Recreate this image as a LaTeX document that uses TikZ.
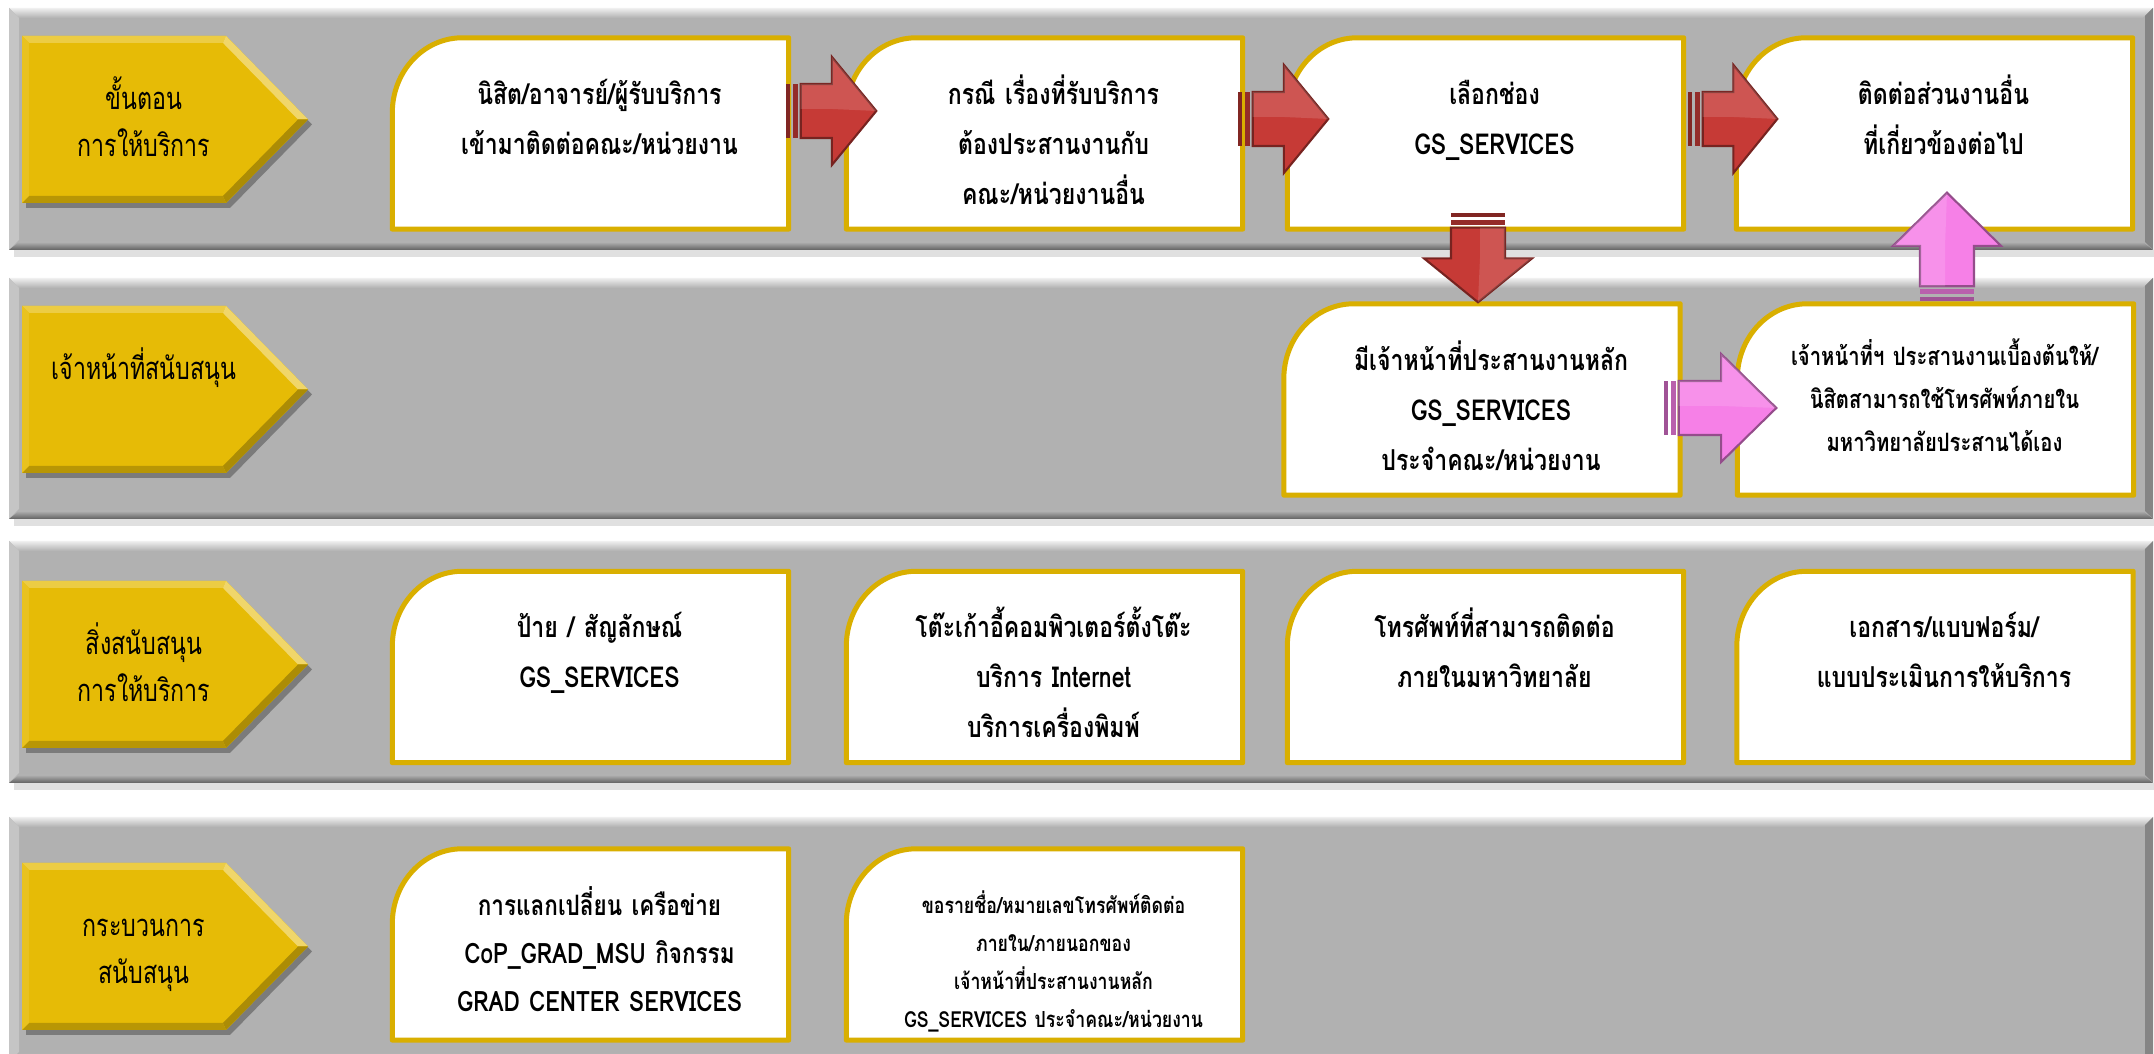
\documentclass[tikz,border=0pt]{standalone}
\usepackage{fontspec}
\newfontfamily\thaifont[Script=Thai,FakeStretch=0.8]{Loma}
\newfontfamily\tabfont[Script=Thai,FakeStretch=0.75]{Loma}
\usetikzlibrary{calc}
\pgfdeclarelayer{lanes}
\pgfdeclarelayer{cards}
\pgfsetlayers{lanes,cards,main}
\definecolor{lanegray}{RGB}{177,177,177}
\definecolor{tabgold}{RGB}{230,187,6}
\definecolor{cardgold}{RGB}{217,175,0}
\definecolor{arrowred}{RGB}{198,58,54}
\definecolor{arrowpink}{RGB}{246,128,231}
\tikzset{
  card/.style={text width=37mm, align=center, inner sep=0pt, minimum width=39.5mm,
    text height=6.6mm, text depth=12.4mm,
    font={\thaifont\bfseries\fontsize{8.2}{14.2}\selectfont}},
  smallcard/.style={card, text height=6.1mm, text depth=12.9mm,
    font={\thaifont\bfseries\fontsize{7.2}{12.2}\selectfont}},
  tinycard/.style={card, text height=6.4mm, text depth=12.6mm,
    font={\thaifont\bfseries\fontsize{6.3}{10.8}\selectfont}},
  cardline/.style={draw=cardgold, fill=white, line width=0.5mm, line join=round},
  tabtext/.style={anchor=north, text width=30mm, align=center, inner sep=0pt,
    text height=7.3mm, font={\tabfont\fontsize{8.8}{13.4}\selectfont}},
}
\begin{document}
\begin{tikzpicture}[x=0.1mm,y=0.1mm]
  \useasboundingbox (0,0) rectangle (2154,1054);
  % yellow tab on the left of a lane: top, name, text
  \def\tab(#1)[#2]#3{%
    \begin{pgfonlayer}{lanes}
      \fill[black,opacity=.3] (26,#1-5) -- (230,#1-5) -- (312,#1-88.5) -- (230,#1-172) -- (26,#1-172) -- cycle;
      \fill[tabgold] (22,#1) -- (226,#1) -- (308,#1-83.5) -- (226,#1-167) -- (22,#1-167) -- cycle;
      \fill[tabgold!75!white] (22,#1) -- (226,#1) -- (223,#1-7) -- (29,#1-7) -- cycle;
      \fill[tabgold!60!white] (226,#1) -- (308,#1-83.5) -- (298,#1-83.5) -- (223,#1-7) -- cycle;
      \fill[tabgold!75!black] (308,#1-83.5) -- (226,#1-167) -- (223,#1-160) -- (298,#1-83.5) -- cycle;
      \fill[tabgold!80!black] (226,#1-167) -- (22,#1-167) -- (29,#1-160) -- (223,#1-160) -- cycle;
      \fill[tabgold!90!white] (22,#1-167) -- (22,#1) -- (29,#1-7) -- (29,#1-160) -- cycle;
    \end{pgfonlayer}
    \node[tabtext] (#2) at (144,#1) {#3};
  }
  % white card with the round top left corner (text sits a bit right of centre)
  \def\cardframe#1{%
    \begin{pgfonlayer}{cards}
      \draw[cardline] ($(#1.north west)+(-9,-75)$) arc[start angle=180,end angle=90,x radius=7mm,y radius=7.5mm]
        -- ($(#1.north east)+(-9,0)$) -- ($(#1.south east)+(-9,0)$) -- ($(#1.south west)+(-9,0)$) -- cycle;
    \end{pgfonlayer}
  }
  % striped block arrow: tail, tip, colour
  \def\blockarrow#1#2#3{%
    \path let \p1=#1, \p2=#2 in \pgfextra{%
      \pgfmathsetmacro\arrA{atan2(\y2-\y1,\x2-\x1)}\xdef\arrang{\arrA}%
      \pgfmathsetmacro\arrB{veclen(\x2-\x1,\y2-\y1)/0.28453}\xdef\arrlen{\arrB}};
    \begin{scope}[shift={#1},rotate=\arrang]
      \pgfmathsetmacro\hb{0.51*\arrlen}
      \fill[#3!65!black] (0,-27) rectangle (4,27);
      \fill[#3!75!black] (7,-27) rectangle (12,27);
      \fill[#3,draw=#3!60!black,line width=0.6] (15,-27) -- (\hb,-27) -- (\hb,-54) -- (\arrlen,0)
        -- (\hb,54) -- (\hb,27) -- (15,27) -- cycle;
      \fill[white,opacity=.14] (15,2) -- (15,27) -- (\hb,27) -- (\hb,54) -- (\arrlen,0) -- (\hb,2) -- cycle;
    \end{scope}
  }

  \begin{pgfonlayer}{lanes}
    \fill[white] (0,0) rectangle (2154,1054);
    \foreach \yb/\yt in {804/1046,535/776,271/513,-8/237}{
      \fill[black,opacity=.12] (14,\yb-7) rectangle (2154,\yb);
      \fill[lanegray] (9,\yb) rectangle (2153,\yt);
      \shade[top color=gray!12,bottom color=lanegray] (9,\yt) -- (2153,\yt) -- (2143,\yt-10) -- (19,\yt-10) -- cycle;
      \fill[lanegray!75!white] (9,\yb) -- (9,\yt) -- (19,\yt-10) -- (19,\yb+10) -- cycle;
      \shade[top color=lanegray,bottom color=lanegray!55!black] (9,\yb) -- (2153,\yb) -- (2143,\yb+8) -- (19,\yb+8) -- cycle;
      \fill[lanegray!75!black] (2153,\yb) -- (2153,\yt) -- (2145,\yt-8) -- (2145,\yb+8) -- cycle;
    }
  \end{pgfonlayer}

  \tab(1018)[lab1]{ขั้นตอน\\การให้บริการ}
  \tab(748)[lab2]{เจ้าหน้าที่สนับสนุน}
  \tab(473)[lab3]{สิ่งสนับสนุน\\การให้บริการ}
  \tab(191)[lab4]{กระบวนการ\\สนับสนุน}

  \node[card] (b1) at (599.5,920.5) {นิสิต/อาจารย์/ผู้รับบริการ\\เข้ามาติดต่อคณะ/หน่วยงาน};
  \node[card] (b2) at (1053.5,920.5) {กรณี เรื่องที่รับบริการ\\ต้องประสานงานกับ\\คณะ/หน่วยงานอื่น};
  \node[card] (b3) at (1494.5,920.5) {เลือกช่อง\\GS\_SERVICES};
  \node[card] (b4) at (1943.5,920.5) {ติดต่อส่วนงานอื่น\\ที่เกี่ยวข้องต่อไป};
  \node[card] (b5) at (1491,654.5) {มีเจ้าหน้าที่ประสานงานหลัก\\GS\_SERVICES\\ประจำคณะ/หน่วยงาน};
  \node[smallcard] (b6) at (1944.5,654.5) {เจ้าหน้าที่ฯ ประสานงานเบื้องต้นให้/\\นิสิตสามารถใช้โทรศัพท์ภายใน\\มหาวิทยาลัยประสานได้เอง};

  \node[card] (c1) at (599.5,387) {ป้าย / สัญลักษณ์\\GS\_SERVICES};
  \node[card] (c2) at (1053.5,387) {โต๊ะเก้าอี้คอมพิวเตอร์ตั้งโต๊ะ\\บริการ Internet\\บริการเครื่องพิมพ์};
  \node[card] (c3) at (1494.5,387) {โทรศัพท์ที่สามารถติดต่อ\\ภายในมหาวิทยาลัย};
  \node[card] (c4) at (1944,387) {เอกสาร/แบบฟอร์ม/\\แบบประเมินการให้บริการ};

  \node[card,font={\thaifont\bfseries\fontsize{8}{13.7}\selectfont}] (d1) at (599.5,109.5) {การแลกเปลี่ยน เครือข่าย\\CoP\_GRAD\_MSU กิจกรรม\\GRAD CENTER SERVICES};
  \node[tinycard] (d2) at (1053.5,109.5) {ขอรายชื่อ/หมายเลขโทรศัพท์ติดต่อ\\ภายใน/ภายนอกของ\\เจ้าหน้าที่ประสานงานหลัก\\GS\_SERVICES ประจำคณะ/หน่วยงาน};

  \foreach \c in {b1,b2,b3,b4,b5,b6,c1,c2,c3,c4,d1,d2}{\cardframe{\c}}

  \blockarrow{($(b1.east)+(-12,22.5)$)}{($(b2.west)+(21,22.5)$)}{arrowred}
  \blockarrow{($(b2.east)+(-14,14.5)$)}{($(b3.west)+(32,14.5)$)}{arrowred}
  \blockarrow{($(b3.east)+(-5,14.5)$)}{($(b4.west)+(32,14.5)$)}{arrowred}
  \blockarrow{($(b3.south)+(-16.5,16.5)$)}{($(b5.north)+(-13,1.5)$)}{arrowred}
  \blockarrow{($(b5.east)+(-25.5,-8.5)$)}{($(b6.west)+(30,-8.5)$)}{arrowpink}
  \blockarrow{($(b6.north)+(2.5,2.5)$)}{($(b4.south)+(3.5,36.5)$)}{arrowpink}
\end{tikzpicture}
\end{document}
